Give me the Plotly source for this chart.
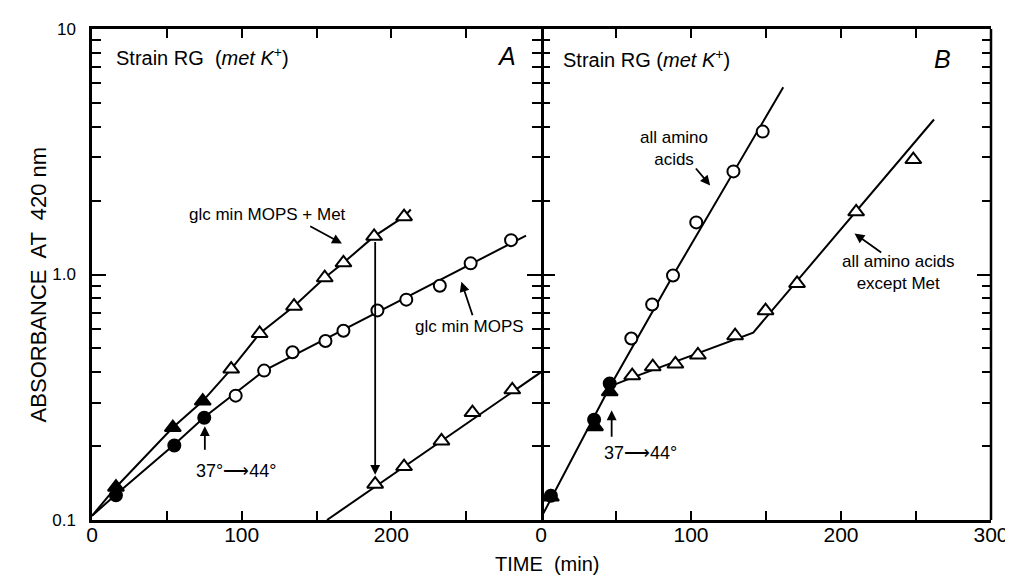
import math
import plotly.graph_objects as go

# ---------------- data (time in min, absorbance at 420 nm) ----------------
# Panel A
A_met_filled_t = [16, 54, 74]
A_met_filled_v = [0.136, 0.238, 0.305]
A_met_open_t = [93, 112, 135, 155.5, 168, 188.5, 208.5]
A_met_open_v = [0.412, 0.575, 0.743, 0.97, 1.116, 1.43, 1.72]
A_met_line_t = [0, 16, 54, 74, 93, 112, 135, 155.5, 168, 188.5, 208.5, 213]
A_met_line_v = [0.104, 0.136, 0.238, 0.305, 0.412, 0.575, 0.743, 0.97, 1.116, 1.43, 1.72, 1.84]

A_glc_filled_t = [16, 55, 75]
A_glc_filled_v = [0.126, 0.201, 0.261]
A_glc_open_t = [96, 115, 134, 156, 168, 190.7, 210, 232.4, 253, 280]
A_glc_open_v = [0.321, 0.406, 0.482, 0.536, 0.59, 0.714, 0.79, 0.90, 1.11, 1.38]
A_glc_line_t = [0, 16, 55, 75, 96, 115, 290]
A_glc_line_v = [0.104, 0.127, 0.203, 0.262, 0.33, 0.406, 1.44]

A_dil_t = [189.2, 208.5, 233.5, 254.2, 280.8]
A_dil_v = [0.140, 0.165, 0.21, 0.274, 0.339]
A_dil_line_t = [157, 300]
A_dil_line_v = [0.1, 0.40]

# Panel B
B_aa_filled_t = [6.6, 35.4, 45.8]
B_aa_filled_v = [0.1255, 0.256, 0.36]
B_aa_open_t = [60.2, 74.1, 88, 103.5, 128.3, 147.8]
B_aa_open_v = [0.549, 0.755, 0.99, 1.63, 2.63, 3.82]
B_aa_line_t = [0, 46, 88, 161.5]
B_aa_line_v = [0.102, 0.35, 0.99, 5.79]

B_nomet_filled_t = [6.6, 36, 45.8]
B_nomet_filled_v = [0.124, 0.240, 0.333]
B_nomet_open_t = [60.8, 74.5, 89.6, 104.6, 129.4, 149.7, 170.7, 210.1, 248.2]
B_nomet_open_v = [0.387, 0.421, 0.432, 0.47, 0.563, 0.712, 0.92, 1.80, 2.94]
B_nomet_line_t = [46, 60.8, 141.5, 262]
B_nomet_line_v = [0.35, 0.38, 0.58, 4.28]

x_tickvals = [0, 50, 100, 150, 200, 250, 300]
xA_ticktext = ["0", "", "100", "", "200", "", ""]
xB_ticktext = ["0", "", "100", "", "200", "", "300"]
y_major = [0.1, 1, 10]
y_major_text = ["0.1", "1.0", "10"]
y_minor = [0.2, 0.3, 0.4, 0.5, 0.6, 0.7, 0.8, 0.9, 2, 3, 4, 5, 6, 7, 8, 9]

FONT = "Liberation Sans"
BLACK = "black"

fig = go.Figure()


def line(t, v, xa, ya):
    fig.add_trace(go.Scatter(x=t, y=v, xaxis=xa, yaxis=ya, mode="lines",
                             line=dict(color=BLACK, width=2), hoverinfo="skip",
                             showlegend=False))


def pts(t, v, xa, ya, symbol, filled, size):
    fig.add_trace(go.Scatter(
        x=t, y=v, xaxis=xa, yaxis=ya, mode="markers", showlegend=False,
        marker=dict(symbol=symbol, size=size,
                    color=BLACK if filled else "white",
                    line=dict(color=BLACK, width=2))))


# Panel A
line(A_met_line_t, A_met_line_v, "x", "y")
line(A_glc_line_t, A_glc_line_v, "x", "y")
line(A_dil_line_t, A_dil_line_v, "x", "y")
pts(A_met_filled_t, A_met_filled_v, "x", "y", "triangle-up", True, 14)
pts(A_met_open_t, A_met_open_v, "x", "y", "triangle-up", False, 14)
pts(A_glc_filled_t, A_glc_filled_v, "x", "y", "circle", True, 12)
pts(A_glc_open_t, A_glc_open_v, "x", "y", "circle", False, 12)
pts(A_dil_t, A_dil_v, "x", "y", "triangle-up", False, 14)

# Panel B
line(B_aa_line_t, B_aa_line_v, "x2", "y2")
line(B_nomet_line_t, B_nomet_line_v, "x2", "y2")
pts(B_aa_open_t, B_aa_open_v, "x2", "y2", "circle", False, 12)
pts(B_nomet_open_t, B_nomet_open_v, "x2", "y2", "triangle-up", False, 14)
pts(B_nomet_filled_t, B_nomet_filled_v, "x2", "y2", "triangle-up", True, 14)
pts(B_aa_filled_t, B_aa_filled_v, "x2", "y2", "circle", True, 12)

split = 451 / 903

common_x = dict(range=[0, 300], tickvals=x_tickvals, ticks="inside", ticklen=9,
                tickwidth=2, tickcolor=BLACK, showline=True, linewidth=2.5,
                linecolor=BLACK, mirror="allticks", showgrid=False, zeroline=False,
                ticklabelstandoff=-6,
                tickfont=dict(family=FONT, size=21, color=BLACK))
common_y = dict(type="log", range=[-1, 1], tickvals=y_major, ticktext=y_major_text,
                ticks="inside", ticklen=14, tickwidth=2, tickcolor=BLACK,
                linewidth=2.5, linecolor=BLACK, mirror="allticks",
                showgrid=False, zeroline=False, ticklabelstandoff=10,
                tickfont=dict(family=FONT, size=17, color=BLACK),
                minor=dict(tickmode="array", tickvals=y_minor, ticks="inside",
                           ticklen=9, tickwidth=2, tickcolor=BLACK, showgrid=False))

fig.update_layout(
    width=1013, height=578,
    margin=dict(l=84, r=26, t=20, b=66),
    paper_bgcolor="white", plot_bgcolor="white",
    font=dict(family=FONT, color=BLACK),
    xaxis=dict(domain=[0, split], anchor="y", ticktext=xA_ticktext, **common_x),
    xaxis2=dict(domain=[split, 1], anchor="y2", ticktext=xB_ticktext, **common_x),
    yaxis=dict(anchor="x", showticklabels=True, showline=True, **common_y),
    yaxis2=dict(anchor="x2", showticklabels=False, showline=False, **common_y),
    shapes=[dict(type="line", xref="paper", yref="paper", x0=1, x1=1, y0=0, y1=1,
                 line=dict(color=BLACK, width=2.5))],
)

L = math.log10
ann = []


def text(xr, yr, x, v, s, xanchor="center", size=17):
    ann.append(dict(xref=xr, yref=yr, x=x, y=L(v), text=s, showarrow=False,
                    xanchor=xanchor, yanchor="middle",
                    font=dict(family=FONT, size=size, color=BLACK)))


def arrow(xr, yr, t0, v0, t1, v1):
    ann.append(dict(xref=xr, yref=yr, axref=xr, ayref=yr, x=t1, y=L(v1),
                    ax=t0, ay=L(v0), text="", showarrow=True, arrowhead=2,
                    arrowsize=1.1, arrowwidth=1.8, arrowcolor=BLACK))


# Panel A texts
text("x", "y", 15, 10 ** 0.89, "Strain RG  (<i>met K</i><sup>+</sup>)", xanchor="left", size=20)
text("x", "y", 277, 10 ** 0.89, "<i>A</i>", size=25)
text("x", "y", 117, 10 ** 0.244, "glc min MOPS + Met")
arrow("x", "y", 144.8, 10 ** 0.2, 167, 10 ** 0.126)
text("x", "y", 252, 10 ** -0.211, "glc min MOPS")
arrow("x", "y", 254.6, 10 ** -0.172, 246.8, 10 ** -0.03)
text("x", "y", 96, 10 ** -0.801, "37°\u27f644°", size=18)
arrow("x", "y", 75.4, 10 ** -0.72, 75.4, 10 ** -0.618)
arrow("x", "y", 189.2, 10 ** 0.138, 189.2, 10 ** -0.816)

# Panel B texts
text("x2", "y2", 13, 10 ** 0.878, "Strain RG (<i>met K</i><sup>+</sup>)", xanchor="left", size=20)
text("x2", "y2", 267.7, 10 ** 0.878, "<i>B</i>", size=25)
text("x2", "y2", 88.9, 10 ** 0.512, "all amino<br>acids")
arrow("x2", "y2", 102.4, 10 ** 0.438, 112.8, 10 ** 0.363)
text("x2", "y2", 238, 10 ** 0.008, "all amino acids<br>except Met")
arrow("x2", "y2", 227.8, 10 ** 0.085, 209, 10 ** 0.167)
text("x2", "y2", 66.4, 10 ** -0.728, "37\u27f644°", size=18)
arrow("x2", "y2", 47.1, 10 ** -0.667, 47.1, 10 ** -0.553)

# axis titles
ann.append(dict(xref="paper", yref="paper", x=0.506, y=-0.089, text="TIME  (min)",
                showarrow=False, xanchor="center", yanchor="middle",
                font=dict(family=FONT, size=20, color=BLACK)))
ann.append(dict(xref="paper", yref="paper", x=-0.06, y=0.48, text="ABSORBANCE  AT  420 nm",
                showarrow=False, xanchor="center", yanchor="middle", textangle=-90,
                font=dict(family=FONT, size=22, color=BLACK)))

fig.update_layout(annotations=ann)
fig.write_html("out.html")
